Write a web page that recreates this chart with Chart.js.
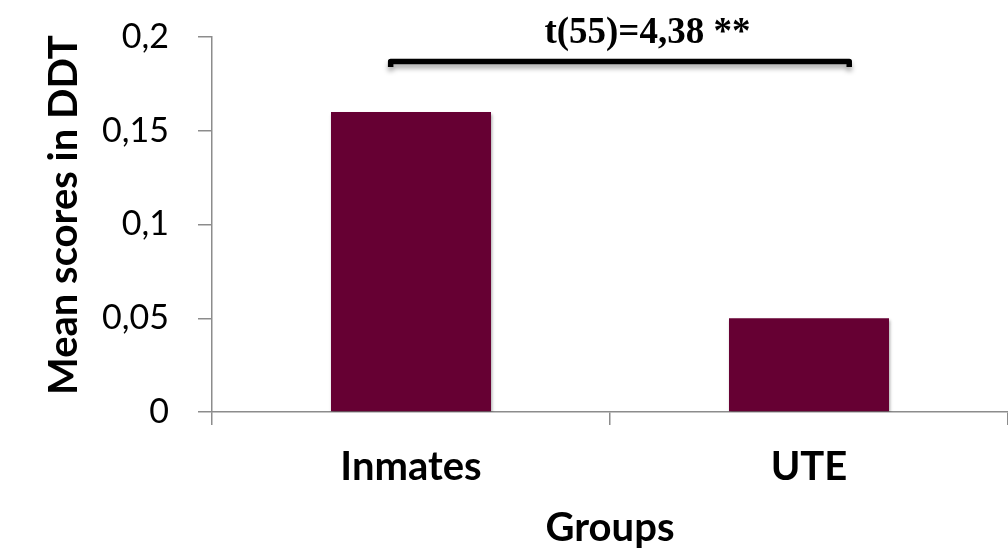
<!DOCTYPE html>
<html><head><meta charset="utf-8">
<script src="https://cdn.jsdelivr.net/npm/chart.js@4"></script>
<style>html,body{margin:0;padding:0;background:#fff}#w{width:1008px;height:548px;position:relative}</style>
</head><body><div id="w"><canvas id="c"></canvas></div>
<script>
// ---- data ----
const categories = ['Inmates', 'UTE'];
const meanScores = [0.16, 0.05];
const yTickValues = [0, 0.05, 0.1, 0.15, 0.2];
const yTitle = 'Mean scores in DDT';
const xTitle = 'Groups';
const significanceText = 't(55)=4,38 **';
const bracketGroups = [0, 1];       // groups compared by the bracket
const bracketLevel = 0.1869;        // y value of the bracket
const labelLevel = 0.1968;          // y value of the text baseline
const yTitleLevel = 0.105;          // y value at the centre of the axis title

const fmt = v => String(Number(v.toFixed(2))).replace('.', ',');

const barShadow = {
  id: 'barShadow',
  beforeDatasetDraw(chart) {
    const ctx = chart.ctx;
    ctx.save();
    ctx.shadowColor = 'rgba(0,0,0,0.35)';
    ctx.shadowBlur = 3;
    ctx.shadowOffsetX = 1;
    ctx.shadowOffsetY = 2;
  },
  afterDatasetDraw(chart) { chart.ctx.restore(); }
};

const yTitlePlugin = {
  id: 'yTitle',
  afterDraw(chart) {
    const { ctx, scales: { y } } = chart;
    ctx.save();
    ctx.translate(64, y.getPixelForValue(yTitleLevel));
    ctx.rotate(-Math.PI / 2);
    ctx.fillStyle = '#000';
    ctx.font = 'bold 40px Lato';
    ctx.textAlign = 'center';
    ctx.textBaseline = 'middle';
    ctx.fillText(yTitle, 0, 0);
    ctx.restore();
  }
};

const sigPlugin = {
  id: 'sig',
  afterDatasetsDraw(chart) {
    const { ctx, scales: { x, y } } = chart;
    const p0 = x.getPixelForValue(bracketGroups[0]);
    const p1 = x.getPixelForValue(bracketGroups[1]);
    const cw = p1 - p0;
    const x0 = p0 - 0.058 * cw;
    const x1 = p1 + 0.108 * cw;
    const yb = y.getPixelForValue(bracketLevel);
    ctx.save();
    ctx.shadowColor = 'rgba(0,0,0,0.35)';
    ctx.shadowBlur = 5;
    ctx.shadowOffsetY = 4;
    ctx.strokeStyle = '#000';
    ctx.lineWidth = 5.5;
    ctx.lineJoin = 'round';
    ctx.beginPath();
    ctx.moveTo(x0 + 2.75, yb + 5.5);
    ctx.lineTo(x0 + 2.75, yb);
    ctx.lineTo(x1 - 2.75, yb);
    ctx.lineTo(x1 - 2.75, yb + 5.5);
    ctx.stroke();
    ctx.restore();
    ctx.save();
    ctx.fillStyle = '#000';
    ctx.font = 'bold 37px "Liberation Serif", "Times New Roman", serif';
    ctx.textAlign = 'center';
    ctx.textBaseline = 'alphabetic';
    ctx.fillText(significanceText, p0 + 0.594 * cw, y.getPixelForValue(labelLevel));
    ctx.restore();
  }
};

Chart.defaults.font.family = 'Lato';
Chart.defaults.color = '#000';

new Chart(document.getElementById('c'), {
  type: 'bar',
  data: {
    labels: categories,
    datasets: [{
      data: meanScores,
      backgroundColor: '#660033',
      borderWidth: 0,
      barPercentage: 0.402,
      categoryPercentage: 1
    }]
  },
  options: {
    responsive: true,
    maintainAspectRatio: false,
    animation: false,
    layout: { padding: { top: 37, left: 0, right: 0, bottom: 0 } },
    plugins: { legend: { display: false }, tooltip: { enabled: false } },
    scales: {
      x: {
        offset: true,
        grid: { offset: true, drawOnChartArea: false, drawTicks: true, tickLength: 13, color: '#8c8c8c', lineWidth: 1.5 },
        border: { display: true, color: '#8c8c8c', width: 1.5 },
        ticks: { font: { size: 40, weight: 'bold' }, padding: 18, color: '#000' },
        title: { display: true, text: xTitle, font: { size: 40, weight: 'bold', lineHeight: 1 }, padding: { top: 0, bottom: 0 }, color: '#000' },
        afterFit(s) { s.height = 136; s.paddingLeft = 0; s.paddingRight = 0; }
      },
      y: {
        min: 0, max: 0.2,
        afterBuildTicks(s) { s.ticks = yTickValues.map(v => ({ value: v })); },
        grid: { drawOnChartArea: false, drawTicks: true, tickLength: 14, color: '#8c8c8c', lineWidth: 1.5 },
        border: { display: true, color: '#8c8c8c', width: 1.5 },
        ticks: { font: { size: 34 }, padding: 29, color: '#000', callback: v => fmt(v) },
        title: { display: false },
        afterFit(s) { s.width = 212; s.paddingTop = 0; s.paddingBottom = 0; }
      }
    }
  },
  plugins: [barShadow, sigPlugin, yTitlePlugin]
});
</script>
</body></html>
